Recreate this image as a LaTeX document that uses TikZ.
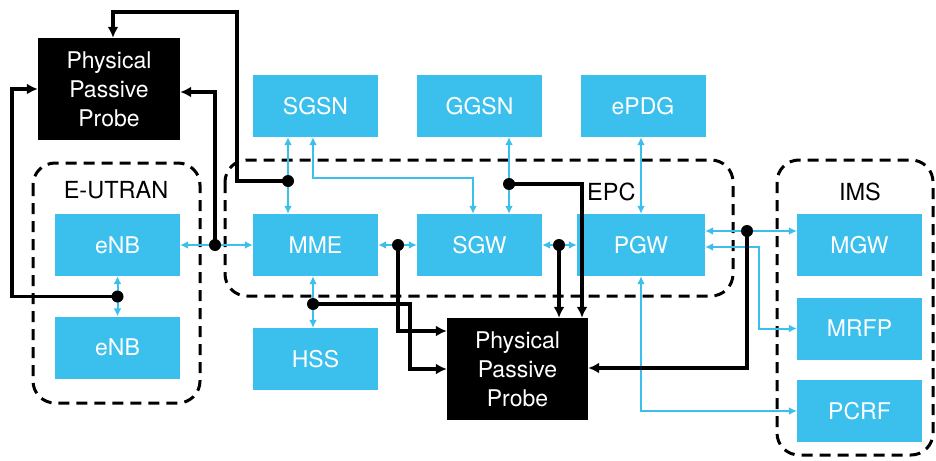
\documentclass[tikz,border=0pt]{standalone}
\usepackage{fontspec}
\setmainfont{TeX Gyre Heros}
\usetikzlibrary{arrows.meta}
\definecolor{netblue}{RGB}{59,192,238}
\begin{document}
\begin{tikzpicture}[x=1pt,y=-1pt,
  unit/.style={fill=netblue,text=white,minimum width=125pt,minimum height=62pt,inner sep=0pt,font=\fontsize{23}{29}\selectfont},
  probe/.style={fill=black,text=white,minimum width=142pt,minimum height=102pt,inner sep=0pt,align=center,font=\fontsize{23}{29}\selectfont},
  group/.style={draw=black,line width=3pt,dash pattern=on 11pt off 7pt,rounded corners=22pt},
  glabel/.style={font=\fontsize{23.5}{28}\selectfont,text=black,inner sep=0pt},
  link/.style={draw=netblue,line width=2pt,{Latex[length=8pt,width=8pt]}-{Latex[length=8pt,width=8pt]}},
  tap/.style={draw=black,line width=3.8pt,-{Latex[length=11pt,width=11pt]}}
]
\useasboundingbox (0,0) rectangle (936,460);

% dashed domain outlines
\draw[group] (33,163) rectangle (200,403);
\draw[group] (225,160) rectangle (733,296);
\draw[group] (777,160) rectangle (933,455);
\node[glabel] (lutran) at (116,190) {E-UTRAN};
\node[glabel,anchor=west] (lepc) at (587,192) {EPC};
\node[glabel] (lims) at (860,192) {IMS};

% network elements
\node[probe] (probe1) at (109,89) {Physical\\Passive\\Probe};
\node[unit] (sgsn) at (315.5,106) {SGSN};
\node[unit] (ggsn) at (479.5,106) {GGSN};
\node[unit] (epdg) at (643,106) {ePDG};
\node[unit] (enb1) at (117.5,245) {eNB};
\node[unit] (enb2) at (117.5,347.5) {eNB};
\node[unit] (mme) at (315.5,245) {MME};
\node[unit] (sgw) at (479.5,245) {SGW};
\node[unit,minimum width=128pt] (pgw) at (641,245) {PGW};
\node[unit] (hss) at (315.5,359) {HSS};
\node[probe,minimum width=141pt] (probe2) at (517.5,369) {Physical\\Passive\\Probe};
\node[unit] (mgw) at (859.5,245) {MGW};
\node[unit] (mrfp) at (859.5,328.5) {MRFP};
\node[unit] (pcrf) at (859.5,411) {PCRF};

% tap points
\coordinate (d1) at (215,245);
\coordinate (d2) at (117.5,296.5);
\coordinate (d3) at (288,181);
\coordinate (d5) at (509,184);
\coordinate (d6) at (398,245);
\coordinate (d7) at (313,304);
\coordinate (d8) at (559,245);
\coordinate (d9) at (747,231);

% interfaces
\draw[link] (enb1.east) -- (mme.west);
\draw[link] (enb1.south) -- (enb2.north);
\draw[link] (sgsn.south -| d3) -- (mme.north -| d3);
\draw[link] ([xshift=-2.5pt]sgsn.south) -- ++(0,41) -| ([xshift=-6.5pt]sgw.north);
\draw[link] (ggsn.south -| d5) -- (sgw.north -| d5);
\draw[link] (epdg.south -| pgw.north) -- (pgw.north);
\draw[link] (mme.east) -- (sgw.west);
\draw[link] (sgw.east) -- (pgw.west);
\draw[link] (mme.south -| d7) -- (hss.north -| d7);
\draw[link] (pgw.east |- d9) -- (mgw.west |- d9);
\draw[link] ([yshift=-2pt]pgw.east) -- ++(54,0) |- (mrfp.west);
\draw[link] (pgw.south) |- (pcrf.west);

% probe feeds
\draw[tap] (d1) |- ([yshift=-3pt]probe1.east);
\draw[tap] (d2) -- ++(-105.5,0) |- (probe1.west);
\draw[tap] (d3) -| (237,12) -| ([xshift=4pt]probe1.north);
\draw[tap] (d5) -| ([xshift=64.5pt]probe2.north);
\draw[tap] (d6) |- ([yshift=38pt]probe2.west);
\draw[tap] (d7) -- ++(97,0) |- (probe2.west);
\draw[tap] (d8) -- (d8 |- probe2.north);
\draw[tap] (d9) |- ([yshift=1pt]probe2.east);

\foreach \d in {d1,d2,d3,d5,d6,d7,d8,d9} \fill (\d) circle (6pt);
\end{tikzpicture}
\end{document}
